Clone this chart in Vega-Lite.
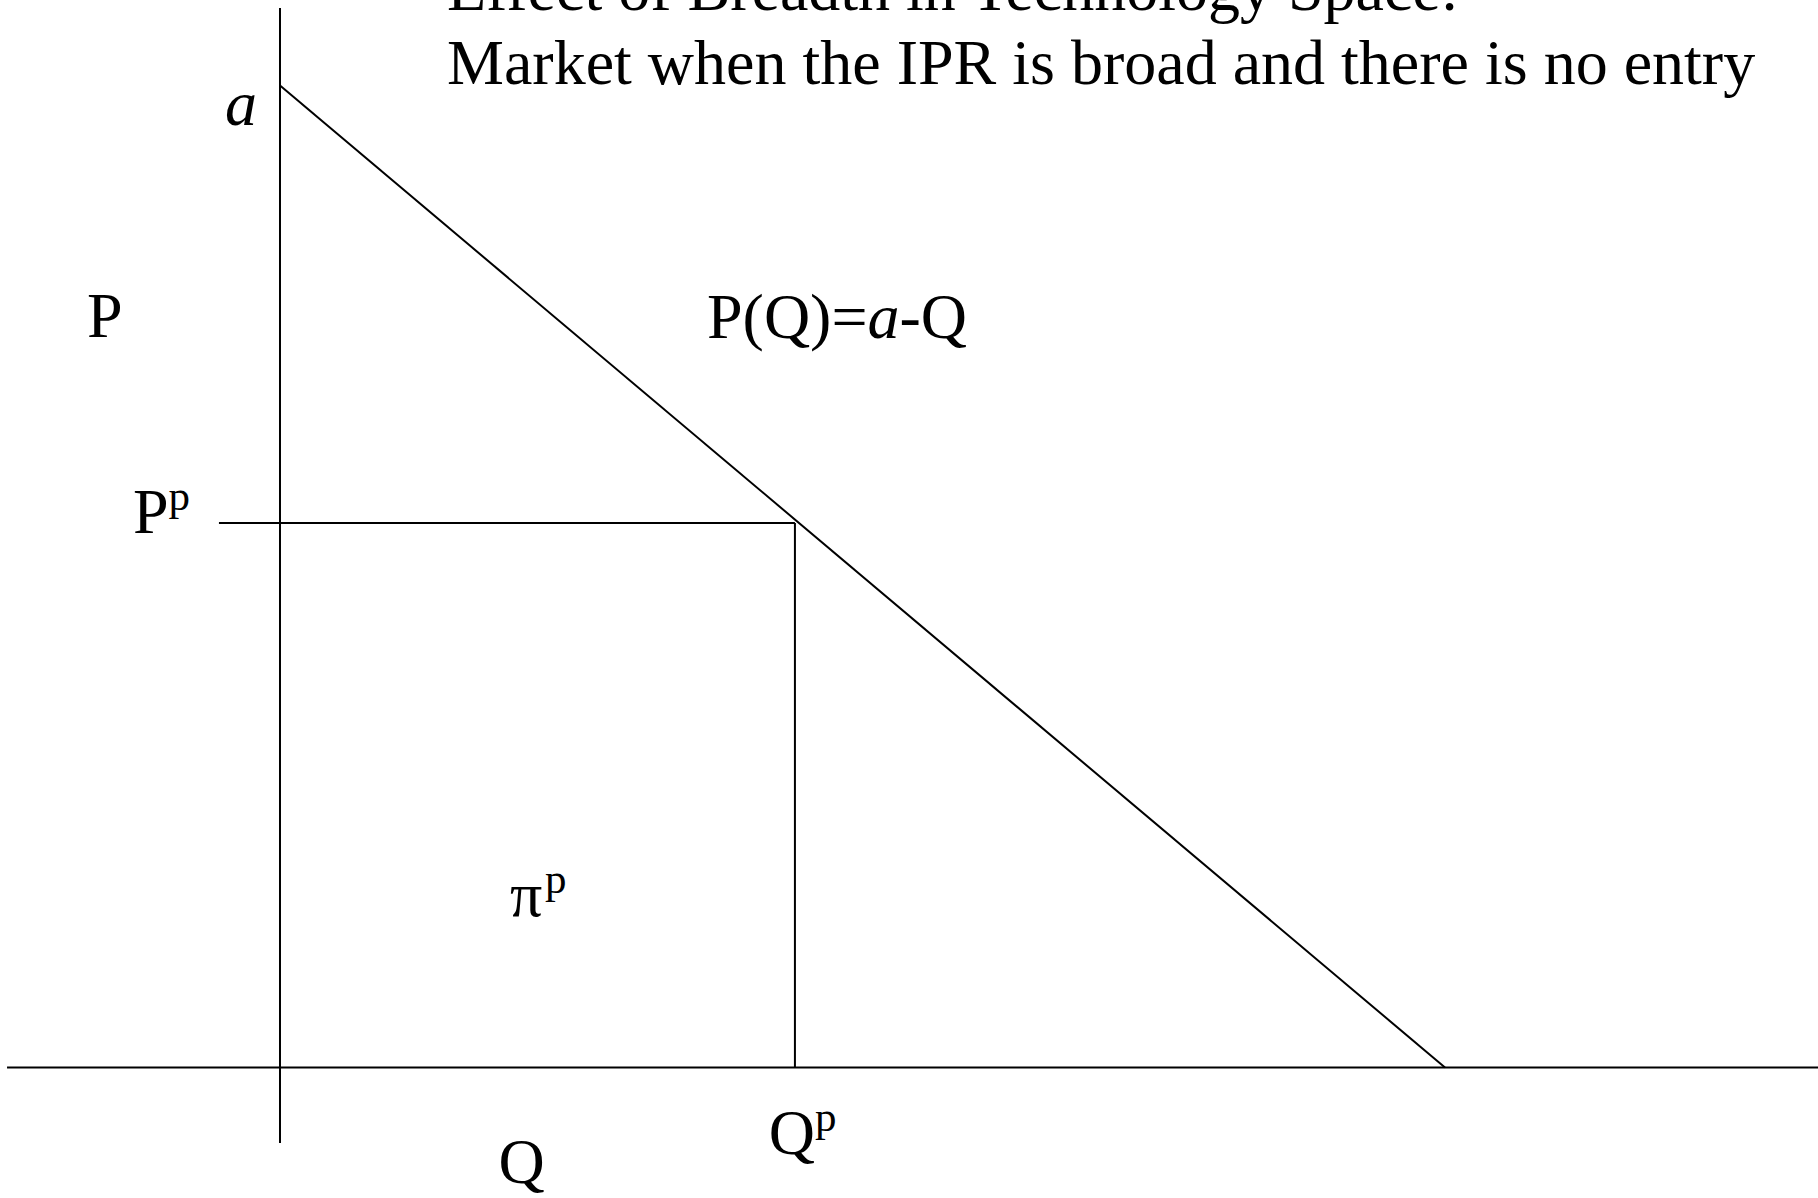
{
  "$schema": "https://vega.github.io/schema/vega-lite/v6.json",
  "width": 1818,
  "height": 1198,
  "autosize": {"type": "none"},
  "padding": 0,
  "background": "white",
  "config": {"view": {"stroke": null}},
  "datasets": {
    "lines": [
      {"part": "Q axis", "q": -2.343, "p": 0, "q2": 13.2017, "p2": 0},
      {"part": "P axis", "q": 0, "p": 10.789, "q2": 0, "p2": -0.769},
      {"part": "demand", "q": 0, "p": 10, "q2": 10, "p2": 0},
      {"part": "price", "q": -0.524, "p": 5.545, "q2": 4.42, "p2": 5.545},
      {"part": "quantity", "q": 4.42, "p": 5.545, "q2": 4.42, "p2": 0}
    ],
    "roman": [
      {"text": "Effect of Breadth in Technology Space:", "q": 1.4335, "p": 10.769},
      {"text": "Market when the IPR is broad and there is no entry", "q": 1.4335, "p": 10.0153},
      {"text": "P", "q": -1.6567, "p": 7.4389},
      {"text": "P", "q": -1.2618, "p": 5.443},
      {"text": "Q", "q": 4.1948, "p": -0.8768},
      {"text": "Q", "q": 1.8755, "p": -1.1721},
      {"text": "π", "q": 1.9742, "p": 1.5428},
      {"text": "P(Q)=", "q": 3.6652, "p": 7.4338},
      {"text": "-Q", "q": 5.3176, "p": 7.4338}
    ],
    "italic": [
      {"text": "a", "q": -0.4721, "p": 9.5978},
      {"text": "a", "q": 5.0429, "p": 7.4338}
    ],
    "sup": [
      {"text": "p", "q": -0.9562, "p": 5.6772},
      {"text": "p", "q": 4.5923, "p": -0.6426},
      {"text": "p", "q": 2.2747, "p": 1.7821}
    ]
  },
  "layer": [
    {
      "data": {"name": "lines"},
      "mark": {"type": "rule", "color": "black", "strokeWidth": 2, "strokeCap": "butt"},
      "encoding": {
        "x": {"field": "q", "type": "quantitative", "axis": null, "scale": {"domain": [-2.4034, 13.2017], "nice": false, "zero": false}},
        "y": {"field": "p", "type": "quantitative", "axis": null, "scale": {"domain": [-1.3289, 10.8707], "nice": false, "zero": false}},
        "x2": {"field": "q2"},
        "y2": {"field": "p2"}
      }
    },
    {
      "data": {"name": "roman"},
      "mark": {"type": "text", "font": "Liberation Serif", "fontSize": 64, "align": "left", "baseline": "alphabetic", "color": "black"},
      "encoding": {
        "x": {"field": "q", "type": "quantitative", "axis": null, "scale": {"domain": [-2.4034, 13.2017], "nice": false, "zero": false}},
        "y": {"field": "p", "type": "quantitative", "axis": null, "scale": {"domain": [-1.3289, 10.8707], "nice": false, "zero": false}},
        "text": {"field": "text"}
      }
    },
    {
      "data": {"name": "italic"},
      "mark": {"type": "text", "font": "Liberation Serif", "fontStyle": "italic", "fontSize": 64, "align": "left", "baseline": "alphabetic", "color": "black"},
      "encoding": {
        "x": {"field": "q", "type": "quantitative", "axis": null, "scale": {"domain": [-2.4034, 13.2017], "nice": false, "zero": false}},
        "y": {"field": "p", "type": "quantitative", "axis": null, "scale": {"domain": [-1.3289, 10.8707], "nice": false, "zero": false}},
        "text": {"field": "text"}
      }
    },
    {
      "data": {"name": "sup"},
      "mark": {"type": "text", "font": "Liberation Serif", "fontSize": 43, "align": "left", "baseline": "alphabetic", "color": "black"},
      "encoding": {
        "x": {"field": "q", "type": "quantitative", "axis": null, "scale": {"domain": [-2.4034, 13.2017], "nice": false, "zero": false}},
        "y": {"field": "p", "type": "quantitative", "axis": null, "scale": {"domain": [-1.3289, 10.8707], "nice": false, "zero": false}},
        "text": {"field": "text"}
      }
    }
  ]
}
